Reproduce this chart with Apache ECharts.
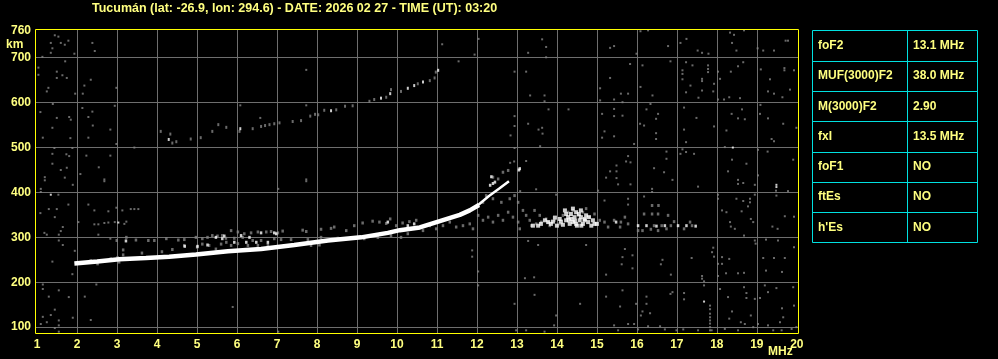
<!DOCTYPE html>
<html><head><meta charset="utf-8">
<script src="https://cdn.jsdelivr.net/npm/echarts@6/dist/echarts.min.js"></script>
<style>html,body{margin:0;padding:0;background:#000}#c{width:998px;height:359px}</style>
</head><body><div id="c"></div>
<script>
const titleText = 'Tucumán (lat: -26.9, lon: 294.6) - DATE: 2026 02 27 - TIME (UT): 03:20';
const xLabelValues = [1,2,3,4,5,6,7,8,9,10,11,12,13,14,15,16,17,18,19,20];
const xGridValues = [2,3,4,5,6,7,8,9,10,11,12,13,14,15,16,17,18,19];
const yLabelValues = [100,200,300,400,500,600,700,760];
const yGridValues = [100,200,300,400,500,600,700];
const xUnit = 'MHz';
const yUnit = 'km';

// ordinary F2 trace (MHz, km)
const oTrace = [[1.93,242],[2.5,246],[3.05,251],[3.72,254],[4.30,257],[4.97,262],[5.77,269],[6.60,274],[7.43,283],[8.27,293],[9.10,300],[9.77,310],[10.07,316],[10.57,322],[11.07,336],[11.57,350],[11.82,360],[12.05,372]];
// upper branch near the cusp
const cuspTrace = [[12.0,370],[12.3,392],[12.55,408],[12.8,425]];

// second hop echoes
const secondHopGray = [[4.09,536],[4.33,530],[4.38,510],[4.48,513],[4.84,519],[5.09,522],[5.38,536],[5.53,551],[5.73,545],[6.06,536],[6.39,542],[6.60,547],[6.70,549],[6.81,551],[6.93,553],[7.06,555],[7.39,558],[7.60,560],[7.83,570],[7.95,574],[8.03,573],[8.18,583],[8.48,584],[8.70,592],[8.89,593],[9.31,603],[9.43,607],[9.73,612],[9.85,629],[10.10,625],[10.52,642],[10.82,649],[10.94,655],[10.97,668]];
const secondHopWhite = [[4.29,518],[6.08,542],[8.35,582],[9.60,610],[9.83,620],[10.27,632],[10.43,638],[10.65,646],[11.03,672]];

// spread echoes around the F trace
const spreadGray = [[2.99,293],[3.23,300],[3.47,294],[3.78,293],[3.93,293],[4.23,297],[4.53,294],[4.68,295],[4.97,300],[5.13,297],[5.26,300],[5.38,304],[5.51,303],[5.63,304],[5.72,298],[3.15,272],[3.15,261],[3.62,265],[4.12,268],[4.38,273],[4.68,282],[5.00,278],[5.13,285],[5.30,282],[5.47,274],[5.60,285],[5.73,289],[2.84,252],[3.01,255],[2.34,248],[2.51,241],[3.05,245],
[5.85,315],[6.02,312],[6.18,308],[6.35,310],[6.52,312],[6.73,312],[6.85,313],[7.02,310],[7.14,314],[7.64,316],[7.73,313],[8.10,318],[8.35,320],[8.43,323],[8.73,315],[8.93,326],[9.14,332],[9.39,336],[9.56,334],[9.73,331],[9.83,341],[9.98,326],[10.14,332],[10.31,335],[10.48,338],[5.93,298],[6.14,300],[6.39,293],[6.60,293],[6.93,297],[7.10,295],[7.35,295],[7.77,295],[8.10,300],[8.52,298],[8.85,298],[9.18,297],[9.52,300],[9.85,304],[10.10,300],[10.27,308],[5.85,282],[6.02,286],[6.27,282],[6.52,282],[6.77,283],[7.85,282],[8.06,283],
[10.65,315],[10.82,326],[10.98,319],[11.15,326],[11.32,334],[11.48,323],[11.65,326],[11.82,330],[11.90,319],[12.03,349],[12.15,338],[12.28,345],[12.40,334],[12.53,349],[12.65,338],[12.78,356],[12.90,345],[13.03,334],[13.07,319],[13.15,360],[13.23,349],[13.32,338],[12.15,378],[12.23,393],[12.40,434],[12.53,430],[12.65,445],[12.78,449],[12.40,386],[12.61,378],[12.82,386],[12.94,393],[13.03,378],[13.44,360],[13.57,349],[13.78,334]];
const spreadWhite = [[3.22,292],[5.47,300],[5.63,297],[5.68,303],[5.26,283],[5.01,280],[4.69,280],[6.10,304],[6.31,300],[6.60,310],[6.93,310],[6.98,308],[5.93,289],[6.23,289],[6.48,289],[6.77,289],[9.77,334],[10.27,326],[10.43,330],[12.33,416],[12.40,420],[12.45,423],[12.36,435],[13.07,453],[13.05,450]];

// spread F blob 13-15 MHz and faint trace to 17.5 MHz
const blobGray = [[13.36,326],[13.48,330],[13.61,334],[13.73,341],[13.82,326],[13.94,338],[14.07,330],[14.15,349],[14.28,356],[14.40,360],[14.53,349],[14.65,356],[14.73,364],[14.82,345],[14.94,352],[15.07,338],[15.19,334],[15.28,323],
[15.43,338],[15.60,334],[15.58,323],[15.70,345],[15.78,330],[16.03,315],[16.14,315],[16.35,318],[16.53,315],[16.74,319],[16.93,335],[17.18,319],[17.33,334],[16.43,326],[16.62,326],[16.85,326],[17.38,326],[16.18,352],[16.38,352],[16.53,352],[16.78,349],[16.38,371],[16.54,371]];
const blobWhite = [[13.40,326],[13.53,326],[13.78,334],[13.90,335],[14.07,341],[14.23,338],[14.36,341],[14.40,334],[14.48,330],[14.57,338],[14.69,338],[14.78,334],[14.86,326],[14.94,330],[14.23,352],[14.48,356],[14.73,349],[14.32,330],[14.44,345],[14.61,326],[14.28,345],
[13.60,330],[13.70,338],[13.85,330],[13.95,344],[14.00,326],[14.10,335],[14.15,328],[14.20,360],[14.30,338],[14.35,352],[14.45,337],[14.50,326],[14.55,352],[14.60,345],[14.65,330],[14.70,341],[14.80,345],[14.90,338],[15.00,330],[14.40,364],[14.60,360]];
const faintTraceWhite = [[15.48,334],[16.03,326],[16.24,326],[16.49,325],[16.70,326],[17.03,326],[17.24,326],[17.47,325]];

// background interference dots
const noiseGray = [[1.44,750],[1.53,747],[1.34,733],[1.59,733],[1.69,729],[1.78,738],[1.38,721],[1.34,711],[1.93,709],[2.38,733],[2.44,715],[1.13,702],[1.70,692],[1.03,678],[1.03,662],[1.49,669],[1.63,661],[1.74,655],[1.49,655],[2.34,651],[2.18,638],[1.28,633],[1.24,625],[1.95,620],[2.14,620],[2.98,633],[1.39,597],[1.08,579],[1.80,568],[1.84,562],[1.49,566],[2.28,568],[2.38,580],[2.13,588],[2.94,593],[2.39,549],[1.38,544],[2.83,540],[1.14,522],[1.83,521],[2.28,522],[2.98,508],[1.43,499],[1.88,499],[3.43,500],[1.38,486],[1.73,485],[1.80,481],[2.23,482],[2.83,482],[2.54,456],[1.59,450],[1.74,455],[1.38,464],[2.08,441],[1.19,434],[1.19,427],[1.69,433],[2.68,429],[2.68,425],[1.89,417],[1.09,408],[1.09,401],[1.53,395],[1.78,373],[2.28,373],[1.29,363],[1.49,363],[1.08,354],[1.44,345],[2.43,360],[2.78,358],[2.98,366],[3.13,360],[3.34,363],[3.43,363],[3.53,363],[2.03,334],[2.43,329],[2.53,329],[2.68,332],[2.78,333],[2.94,334],[3.18,330],[3.23,335],[1.64,323],[1.59,314],[1.54,306],[1.18,310],[1.24,306],[2.53,306],[2.83,297],[1.54,293],[1.64,283],[1.94,270],[1.38,246],[1.88,218],[2.48,195],[1.14,195],[1.14,185],[1.29,168],[1.54,182],[1.79,167],[2.19,168],[1.44,139],[1.14,123],[1.34,127],[1.54,115],[1.24,111],[1.09,107],[1.89,121],[2.34,116],[1.54,104],[1.44,98],[1.54,90],
[7.73,673],[7.73,594],[6.08,594],[6.58,566],[7.73,429],[7.73,425],[7.03,408],[5.89,145],[7.03,90],
[11.13,730],[12.04,742],[11.94,707],[11.54,692],[13.63,741],[13.73,724],[13.28,711],[13.73,701],[12.94,669],[13.23,669],[13.33,616],[13.69,616],[13.69,603],[13.79,585],[14.29,585],[12.94,570],[13.28,553],[12.94,548],[13.54,540],[13.63,544],[13.64,531],[12.84,527],[13.58,503],[12.94,499],[13.23,470],[12.83,466],[12.93,469],[15.33,722],[15.33,655],[15.08,632],[15.08,605],[15.13,575],[15.19,536],[15.13,522],[15.33,447],[15.23,433],[15.19,382],[15.03,404],[13.98,395],[13.48,407],[13.08,403],[11.88,271],[11.88,257],[12.03,224],[12.03,193],[13.20,209],[13.43,211],[13.53,283],[13.28,292],[14.73,283],[13.44,172],[12.94,152],[14.58,152],[15.23,217],[15.23,168],[13.98,126],[13.93,104],[12.98,93],[13.23,93],[13.69,90],
[16.09,759],[16.28,761],[17.09,733],[17.24,742],[17.52,716],[17.63,711],[17.79,709],[17.78,683],[17.78,675],[17.78,668],[18.33,756],[18.43,751],[18.38,733],[18.68,761],[18.49,716],[19.02,721],[19.16,716],[19.43,716],[19.72,738],[19.78,738],[15.99,709],[15.43,726],[16.78,726],[15.83,686],[16.14,683],[16.84,692],[17.14,672],[17.14,664],[17.14,652],[17.23,690],[17.39,683],[17.63,653],[17.63,648],[17.93,642],[18.03,669],[18.08,653],[17.91,625],[18.35,669],[18.53,681],[18.66,690],[19.10,674],[19.33,652],[19.69,677],[19.69,672],[19.93,672],[19.83,629],[19.64,612],[19.43,620],[19.28,625],[18.58,610],[18.31,612],[18.18,607],[18.03,607],[17.54,611],[17.63,627],[17.34,638],[17.23,623],[16.39,616],[15.78,620],[15.60,620],[15.43,607],[15.64,601],[16.09,635],[15.43,586],[15.64,571],[15.43,570],[16.34,597],[16.24,585],[16.53,575],[16.48,564],[17.49,566],[17.18,589],[17.18,540],[17.23,512],[17.93,547],[18.24,538],[18.37,575],[18.53,565],[18.70,563],[18.63,585],[19.09,595],[19.08,575],[19.28,565],[19.66,553],[19.99,544],[19.37,519],[19.43,514],[19.27,491],[19.03,495],[15.73,469],[15.78,481],[15.84,467],[15.49,460],[15.49,447],[15.49,432],[15.53,418],[15.84,418],[15.93,508],[15.43,525],[16.18,549],[16.08,553],[16.48,532],[16.48,519],[16.74,491],[16.74,475],[16.43,454],[16.68,445],[16.89,428],[17.09,486],[17.14,496],[17.23,490],[17.43,486],[17.53,413],[18.20,501],[18.38,473],[18.74,464],[18.28,447],[18.53,428],[18.53,419],[18.66,421],[18.95,417],[19.48,404],[19.49,393],[19.78,403],[19.91,473],[18.03,395],[18.03,386],[18.49,386],[18.66,381],[18.83,386],[18.83,378],[18.95,395],[18.78,369],[18.62,358],[18.24,356],[18.13,360],[18.33,334],[18.35,324],[18.45,319],[18.68,304],[18.85,341],[18.91,334],[19.39,324],[19.52,319],[19.70,347],[19.93,346],[19.03,438],[15.78,386],[15.78,373],[16.18,391],[16.38,408],[16.38,401],
[15.70,274],[15.89,260],[15.64,256],[15.62,240],[15.89,231],[16.64,250],[16.60,240],[16.85,217],[17.37,254],[17.63,214],[17.63,208],[17.68,202],[17.68,193],[17.91,277],[17.88,267],[17.93,257],[18.03,241],[18.03,214],[18.13,256],[18.13,241],[18.31,252],[18.23,220],[18.53,220],[18.68,221],[18.95,293],[18.97,286],[19.16,254],[19.23,295],[19.23,226],[19.43,254],[19.53,293],[19.63,223],[19.70,254],[19.93,278],[15.64,182],[15.58,146],[15.98,152],[16.24,168],[16.24,152],[16.14,135],[16.10,126],[16.33,131],[16.84,174],[16.89,178],[17.18,176],[17.18,162],[17.83,148],[17.83,140],[17.83,130],[17.83,122],[17.83,115],[17.83,108],[17.83,100],[17.83,93],[18.08,185],[18.28,167],[18.38,135],[18.31,119],[18.60,111],[18.68,189],[18.74,176],[18.74,165],[18.95,163],[19.08,165],[19.20,193],[19.28,178],[19.49,187],[19.63,142],[19.66,122],[19.91,189],[19.93,148],[19.58,111],[19.28,104],[19.03,107],[18.85,126],[18.70,107],[18.91,100],[19.41,93],[19.62,93],[19.87,96],[19.99,100],[15.43,104],[15.53,93],[15.78,107],[15.93,107],[16.03,95],[16.28,102],[16.58,102],[16.70,95],[16.99,93],[17.16,95],[17.53,93],[17.87,93],[18.20,96],[18.53,93]];
const noiseWhite = [[1.34,395],[3.03,333],[19.49,417],[19.49,412],[17.68,157],[18.40,500]];

const tableLabels = ['foF2','MUF(3000)F2','M(3000)F2','fxI','foF1','ftEs',"h'Es"];
const tableValues = ['13.1 MHz','38.0 MHz','2.90','13.5 MHz','NO','NO','NO'];

const TXT = '#ffff80';
const FONT = 'Liberation Sans';
const GRAY = '#858585';

const chart = echarts.init(document.getElementById('c'), null, {renderer: 'canvas'});

const tx0 = 812.5, tx1 = 977.5, tcol = 907.5, ty0 = 30.5, rowH = 30.3;
const tableChildren = [];
tableChildren.push({type:'rect', shape:{x:tx0, y:ty0, width:tx1-tx0, height:Math.round(rowH*tableLabels.length)}, style:{fill:'none', stroke:'#00e0e0', lineWidth:1}});
tableChildren.push({type:'line', shape:{x1:tcol, y1:ty0, x2:tcol, y2:ty0+Math.round(rowH*tableLabels.length)}, style:{stroke:'#00e0e0', lineWidth:1}});
tableLabels.forEach((lab, i) => {
  if (i > 0) {
    const yy = Math.round(ty0 + rowH*i) + 0.5;
    tableChildren.push({type:'line', shape:{x1:tx0, y1:yy, x2:tx1, y2:yy}, style:{stroke:'#00e0e0', lineWidth:1}});
  }
  const cy = ty0 + rowH*(i+0.5);
  tableChildren.push({type:'text', x:818, y:cy, style:{text:lab, fill:TXT, font:'bold 12px "Liberation Sans"', verticalAlign:'middle'}});
  tableChildren.push({type:'text', x:913, y:cy, style:{text:tableValues[i], fill:TXT, font:'bold 12px "Liberation Sans"', verticalAlign:'middle'}});
});

const dots = (name, data, color, size, z) => ({
  name, type:'scatter', data, symbol:'rect', symbolSize:size, z,
  itemStyle:{color}, silent:true, animation:false
});

chart.setOption({
  backgroundColor:'#000',
  animation:false,
  grid:{left:36, right:200, top:29, bottom:26, show:false},
  xAxis:{type:'value', min:0.97, max:20.03,
    axisLine:{show:false}, axisTick:{show:false, customValues:xGridValues},
    axisLabel:{customValues:xLabelValues, color:TXT, fontWeight:'bold', fontSize:12, fontFamily:FONT, margin:6},
    splitLine:{show:true, lineStyle:{color:'#6e6e6e', width:1}}},
  yAxis:{type:'value', min:87, max:764,
    axisLine:{show:false}, axisTick:{show:false, customValues:yGridValues},
    axisLabel:{customValues:yLabelValues, color:TXT, fontWeight:'bold', fontSize:12, fontFamily:FONT, margin:5},
    splitLine:{show:true, lineStyle:{color:'#6e6e6e', width:1}}},
  graphic:[
    {type:'text', left:92, top:2, style:{text:titleText, fill:TXT, font:'bold 12.5px "Liberation Sans"'}},
    {type:'text', left:6, top:39, style:{text:yUnit, fill:TXT, font:'bold 12px "Liberation Sans"'}},
    {type:'text', left:768, top:346, style:{text:xUnit, fill:TXT, font:'bold 12px "Liberation Sans"'}},
    {type:'rect', z:100, silent:true, shape:{x:35.5, y:29.5, width:763, height:304}, style:{fill:'none', stroke:'#ffff00', lineWidth:1}},
    {type:'group', children:tableChildren}
  ],
  series:[
    dots('noise', noiseGray, GRAY, [2,2], 3),
    dots('secondHop', secondHopGray, GRAY, [2,3], 3),
    dots('spread', spreadGray, GRAY, [2.5,3], 3),
    dots('blob', blobGray, GRAY, [2.5,3], 3),
    {type:'line', data:oTrace, showSymbol:false, lineStyle:{color:'#ffffff', width:4.5}, z:5, silent:true, animation:false},
    {type:'line', data:cuspTrace, showSymbol:false, lineStyle:{color:'#ffffff', width:2.5}, z:5, silent:true, animation:false},
    dots('noiseW', noiseWhite, '#ffffff', [2,2], 6),
    dots('secondHopW', secondHopWhite, '#ffffff', [2,3], 6),
    dots('spreadW', spreadWhite, '#ffffff', [2.5,3], 6),
    dots('blobW', blobWhite, '#ffffff', [4,4], 6),
    dots('faintW', faintTraceWhite, '#ffffff', [2.5,3], 6)
  ]
});
</script></body></html>
